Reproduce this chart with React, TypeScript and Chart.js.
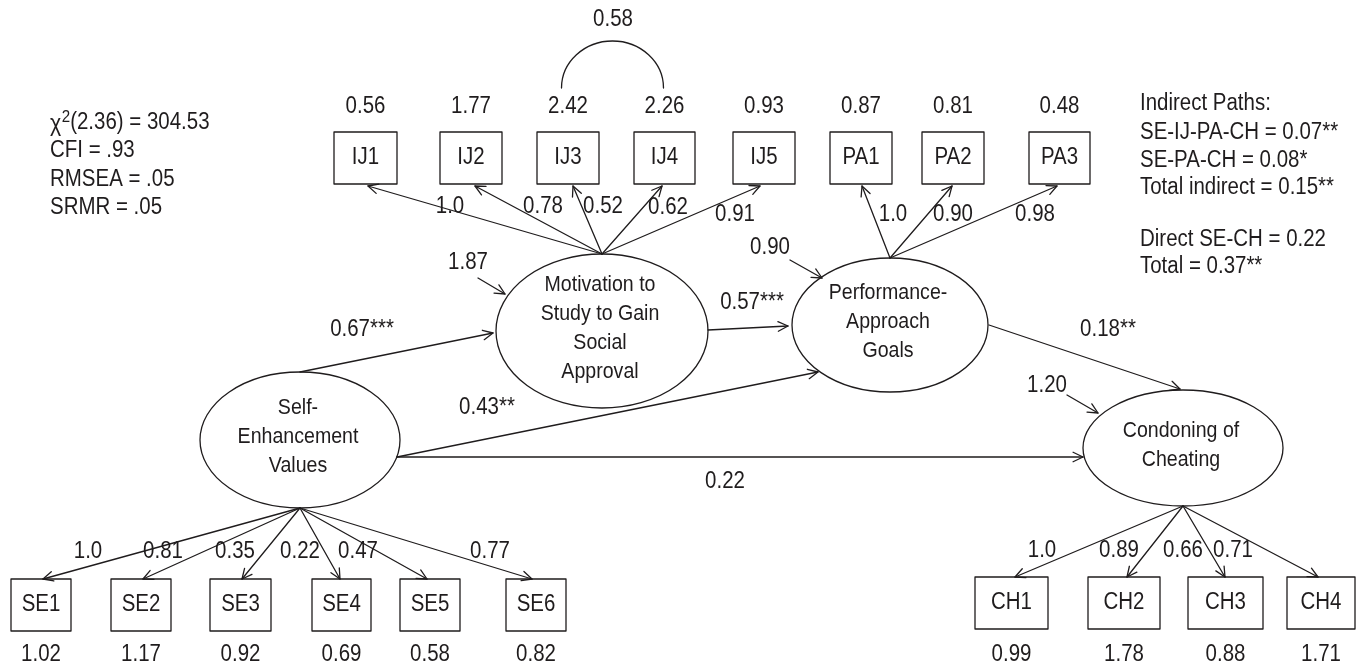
import { useEffect, useRef } from "react";
import { Chart, registerables } from "chart.js";

Chart.register(...registerables);

// ---------------- DATA ----------------
const ijItems = ["IJ1", "IJ2", "IJ3", "IJ4", "IJ5"];
const ijVariances = ["0.56", "1.77", "2.42", "2.26", "0.93"];
const ijLoadings = ["1.0", "0.78", "0.52", "0.62", "0.91"];

const paItems = ["PA1", "PA2", "PA3"];
const paVariances = ["0.87", "0.81", "0.48"];
const paLoadings = ["1.0", "0.90", "0.98"];

const seItems = ["SE1", "SE2", "SE3", "SE4", "SE5", "SE6"];
const seVariances = ["1.02", "1.17", "0.92", "0.69", "0.58", "0.82"];
const seLoadings = ["1.0", "0.81", "0.35", "0.22", "0.47", "0.77"];

const chItems = ["CH1", "CH2", "CH3", "CH4"];
const chVariances = ["0.99", "1.78", "0.88", "1.71"];
const chLoadings = ["1.0", "0.89", "0.66", "0.71"];

const latentIds = ["SE", "IJ", "PA", "CH"];
const latentLabels = [
  ["Self-", "Enhancement", "Values"],
  ["Motivation to", "Study to Gain", "Social", "Approval"],
  ["Performance-", "Approach", "Goals"],
  ["Condoning of", "Cheating"],
];
const latentDisturbances = ["", "1.87", "0.90", "1.20"];

const structuralFrom = ["SE", "IJ", "SE", "PA", "SE"];
const structuralTo = ["IJ", "PA", "PA", "CH", "CH"];
const structuralCoefs = ["0.67***", "0.57***", "0.43**", "0.18**", "0.22"];

const errorCovariance = "0.58"; // IJ3 <-> IJ4

const chiSquareDf = "2.36";
const chiSquareValue = "304.53";
const fitStats = ["CFI = .93", "RMSEA = .05", "SRMR = .05"];
const indirectLines = ["Indirect Paths:", "SE-IJ-PA-CH = 0.07**", "SE-PA-CH = 0.08*", "Total indirect = 0.15**"];
const totalLines = ["Direct SE-CH = 0.22", "Total = 0.37**"];

// ---------------- LAYOUT (data coordinates) ----------------
const L = {
  ijX: [365.5, 471, 568, 664.5, 764],
  ijW: [63, 62, 62, 61, 62],
  ijArrowX: [368, 475, 573, 662, 760],
  ijLoadPos: [[450, 207], [543, 207], [603, 207], [668, 208], [735, 215]],
  paX: [861, 953, 1059.5],
  paW: [62, 62, 61],
  paArrowX: [862, 952, 1057],
  paLoadPos: [[893, 215], [953, 215], [1035, 215]],
  topBoxY: 158,
  topBoxH: 52,
  topVarY: 107,
  seX: [41, 141, 240.5, 341.5, 430, 536],
  seW: [60, 60, 61, 59, 60, 60],
  seArrowX: [43, 143, 242, 340, 427, 532],
  seLoadPos: [[88, 552], [163, 552], [235, 552], [300, 552], [358, 552], [490, 552]],
  seBoxY: 605,
  chX: [1011.5, 1124, 1225.5, 1321],
  chW: [73, 72, 75, 68],
  chArrowX: [1015, 1127, 1225, 1318],
  chLoadPos: [[1042, 551], [1119, 551], [1183, 551], [1233, 551]],
  chBoxY: 603,
  bottomBoxH: 52,
  bottomVarY: 655,
  latent: {
    SE: { x: 300, y: 440, rx: 100, ry: 68 },
    IJ: { x: 602, y: 331, rx: 106, ry: 77 },
    PA: { x: 890, y: 325, rx: 98, ry: 67 },
    CH: { x: 1183, y: 448, rx: 100, ry: 58 },
  } as Record<string, { x: number; y: number; rx: number; ry: number }>,
  structural: [
    { a: [300, 372], b: [493, 333], lab: [362, 330] },
    { a: [708, 330], b: [788, 326], lab: [752, 303] },
    { a: [397, 457], b: [818, 372], lab: [487, 408] },
    { a: [989, 325], b: [1180, 389], lab: [1108, 330] },
    { a: [397, 457], b: [1083, 457], lab: [725, 482] },
  ],
  disturb: {
    IJ: { lab: [468, 263], a: [478, 278], b: [505, 294] },
    PA: { lab: [770, 248], a: [790, 260], b: [822, 278] },
    CH: { lab: [1047, 386], a: [1067, 395], b: [1098, 413] },
  } as Record<string, { lab: number[]; a: number[]; b: number[] }>,
  cov: { x: 612.5, y: 88, rx: 51, ry: 47, lab: [613, 20] },
  statsX: 50,
  statsY: [123, 151, 180, 208],
  indirectX: 1140,
  indirectY: [104, 133, 161, 188],
  totalY: [240, 267],
};

const FONT_FAMILY = '"Liberation Sans", Arial, sans-serif';
const INK = "#1f1c1d";
const TEXT_SQUEEZE = 0.89;
const FS = 23;
const FS_LATENT = 22;

function drawText(ctx: CanvasRenderingContext2D, text: string, x: number, y: number, size: number, align: CanvasTextAlign = "center") {
  ctx.save();
  ctx.font = `${size}px ${FONT_FAMILY}`;
  ctx.fillStyle = INK;
  ctx.textAlign = align;
  ctx.textBaseline = "middle";
  ctx.translate(x, y);
  ctx.scale(TEXT_SQUEEZE, 1);
  ctx.fillText(text, 0, 0);
  ctx.restore();
}

function textWidth(ctx: CanvasRenderingContext2D, text: string, size: number) {
  ctx.save();
  ctx.font = `${size}px ${FONT_FAMILY}`;
  const w = ctx.measureText(text).width * TEXT_SQUEEZE;
  ctx.restore();
  return w;
}

function drawArrow(ctx: CanvasRenderingContext2D, x1: number, y1: number, x2: number, y2: number) {
  ctx.beginPath();
  ctx.moveTo(x1, y1);
  ctx.lineTo(x2, y2);
  ctx.stroke();
  const a = Math.atan2(y2 - y1, x2 - x1);
  const len = 11;
  const w = 0.45;
  ctx.beginPath();
  ctx.moveTo(x2 - len * Math.cos(a - w), y2 - len * Math.sin(a - w));
  ctx.lineTo(x2, y2);
  ctx.lineTo(x2 - len * Math.cos(a + w), y2 - len * Math.sin(a + w));
  ctx.stroke();
}

const diagramPlugin = {
  id: "semDiagram",
  afterDraw(chart: any) {
    const ctx: CanvasRenderingContext2D = chart.ctx;
    const xs = chart.scales.x;
    const ys = chart.scales.y;
    const px = (v: number) => xs.getPixelForValue(v);
    const py = (v: number) => ys.getPixelForValue(v);
    const sx = (d: number) => Math.abs(xs.getPixelForValue(d) - xs.getPixelForValue(0));
    const sy = (d: number) => Math.abs(ys.getPixelForValue(d) - ys.getPixelForValue(0));

    ctx.save();
    ctx.strokeStyle = INK;
    ctx.lineWidth = 1.3;
    ctx.lineCap = "round";
    ctx.lineJoin = "round";

    const box = (cx: number, cy: number, w: number, h: number, label: string) => {
      ctx.strokeRect(px(cx - w / 2), py(cy - h / 2), sx(w), sy(h));
      drawText(ctx, label, px(cx), py(cy), FS);
    };

    const groups = [
      { items: ijItems, vars: ijVariances, loads: ijLoadings, xs: L.ijX, ws: L.ijW, ax: L.ijArrowX, lp: L.ijLoadPos, boxY: L.topBoxY, h: L.topBoxH, varY: L.topVarY, lat: "IJ", top: true },
      { items: paItems, vars: paVariances, loads: paLoadings, xs: L.paX, ws: L.paW, ax: L.paArrowX, lp: L.paLoadPos, boxY: L.topBoxY, h: L.topBoxH, varY: L.topVarY, lat: "PA", top: true },
      { items: seItems, vars: seVariances, loads: seLoadings, xs: L.seX, ws: L.seW, ax: L.seArrowX, lp: L.seLoadPos, boxY: L.seBoxY, h: L.bottomBoxH, varY: L.bottomVarY, lat: "SE", top: false },
      { items: chItems, vars: chVariances, loads: chLoadings, xs: L.chX, ws: L.chW, ax: L.chArrowX, lp: L.chLoadPos, boxY: L.chBoxY, h: L.bottomBoxH, varY: L.bottomVarY, lat: "CH", top: false },
    ];

    groups.forEach((g) => {
      const lat = L.latent[g.lat];
      const ox = lat.x;
      const oy = g.top ? lat.y - lat.ry : lat.y + lat.ry;
      g.items.forEach((name, i) => {
        box(g.xs[i], g.boxY, g.ws[i], g.h, name);
        drawText(ctx, g.vars[i], px(g.xs[i]), py(g.varY), FS);
        const ey = g.top ? g.boxY + g.h / 2 + 2 : g.boxY - g.h / 2;
        drawArrow(ctx, px(ox), py(oy), px(g.ax[i]), py(ey));
        drawText(ctx, g.loads[i], px(g.lp[i][0]), py(g.lp[i][1]), FS);
      });
    });

    latentIds.forEach((id, i) => {
      const e = L.latent[id];
      ctx.beginPath();
      ctx.ellipse(px(e.x), py(e.y), sx(e.rx), sy(e.ry), 0, 0, Math.PI * 2);
      ctx.stroke();
      const lines = latentLabels[i];
      const lh = 29;
      const y0 = e.y - ((lines.length - 1) * lh) / 2 - 3;
      lines.forEach((t, k) => drawText(ctx, t, px(e.x - 2), py(y0 + k * lh), FS_LATENT));
      const d = latentDisturbances[i];
      if (d && L.disturb[id]) {
        const ds = L.disturb[id];
        drawText(ctx, d, px(ds.lab[0]), py(ds.lab[1]), FS);
        drawArrow(ctx, px(ds.a[0]), py(ds.a[1]), px(ds.b[0]), py(ds.b[1]));
      }
    });

    structuralCoefs.forEach((c, i) => {
      const s = L.structural[i];
      drawArrow(ctx, px(s.a[0]), py(s.a[1]), px(s.b[0]), py(s.b[1]));
      drawText(ctx, c, px(s.lab[0]), py(s.lab[1]), FS);
    });

    ctx.beginPath();
    ctx.ellipse(px(L.cov.x), py(L.cov.y), sx(L.cov.rx), sy(L.cov.ry), 0, Math.PI, Math.PI * 2);
    ctx.stroke();
    drawText(ctx, errorCovariance, px(L.cov.lab[0]), py(L.cov.lab[1]), FS);

    let x = px(L.statsX);
    const y0 = py(L.statsY[0]);
    drawText(ctx, "\u03C7", x, y0 + 1, FS + 1, "left");
    x += textWidth(ctx, "\u03C7", FS + 1) + 0.5;
    drawText(ctx, "2", x, y0 - 6, 17, "left");
    x += textWidth(ctx, "2", 17);
    drawText(ctx, `(${chiSquareDf}) = ${chiSquareValue}`, x, y0, FS, "left");
    fitStats.forEach((t, i) => drawText(ctx, t, px(L.statsX), py(L.statsY[i + 1]), FS, "left"));

    indirectLines.forEach((t, i) => drawText(ctx, t, px(L.indirectX), py(L.indirectY[i]), FS, "left"));
    totalLines.forEach((t, i) => drawText(ctx, t, px(L.indirectX), py(L.totalY[i]), FS, "left"));

    ctx.restore();
  },
};

export default function App() {
  const canvasRef = useRef<HTMLCanvasElement | null>(null);

  useEffect(() => {
    if (!canvasRef.current) return;
    const chart = new Chart(canvasRef.current, {
      type: "scatter",
      data: {
        datasets: [
          {
            label: "latent",
            data: latentIds.map((id) => ({ x: L.latent[id].x, y: L.latent[id].y })),
            pointRadius: 0,
            showLine: false,
          },
        ],
      },
      options: {
        responsive: true,
        maintainAspectRatio: false,
        animation: false,
        layout: { padding: 0 },
        plugins: { legend: { display: false }, tooltip: { enabled: false } },
        scales: {
          x: { type: "linear", min: 0, max: 1359, display: false },
          y: { type: "linear", min: 0, max: 668, reverse: true, display: false },
        },
      },
      plugins: [diagramPlugin],
    });
    return () => chart.destroy();
  }, []);

  return (
    <div style={{ position: "fixed", left: 0, top: 0, width: 1359, height: 668, background: "#fff" }}>
      <canvas ref={canvasRef} />
    </div>
  );
}
